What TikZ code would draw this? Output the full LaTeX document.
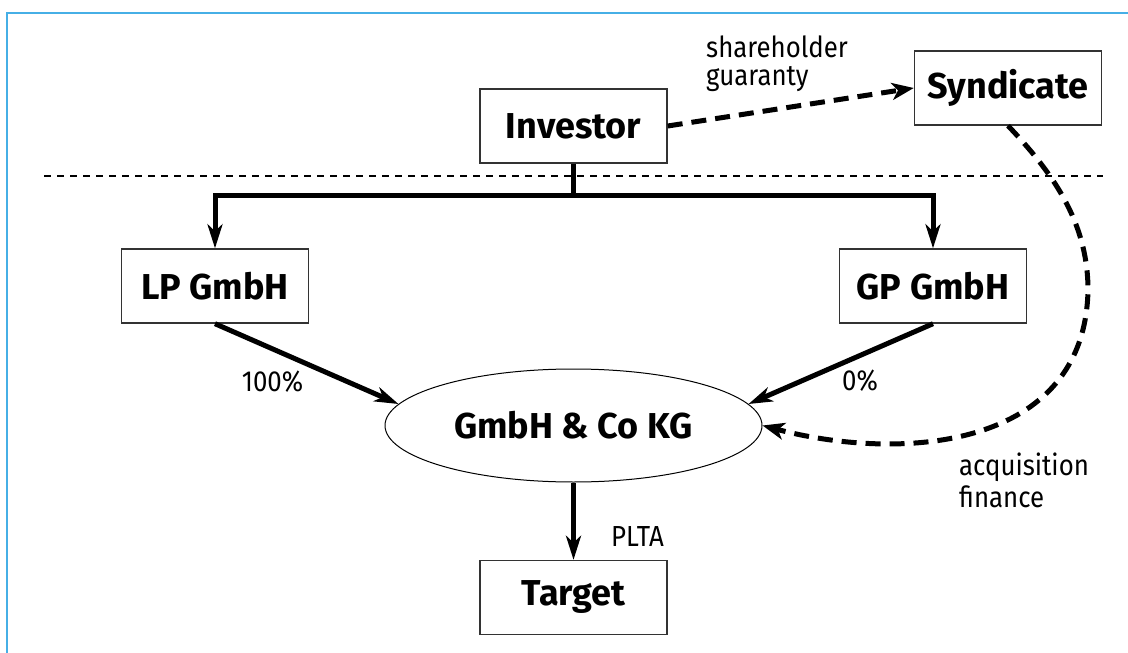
\documentclass[tikz,border=0pt]{standalone}
\usepackage{fontspec}
\setmainfont{Fira Sans}
\newfontfamily\notefont[FakeStretch=0.89]{Fira Sans}
\usetikzlibrary{arrows.meta,shapes.geometric}
\definecolor{framecol}{RGB}{70,175,230}
\begin{document}
\begin{tikzpicture}[x=1pt,y=-1pt,
  box/.style={draw=black!80, line width=1.4pt, minimum width=187pt, minimum height=74pt,
    inner sep=0pt, font=\fontsize{36}{40}\selectfont\bfseries},
  lbl/.style={inner sep=0pt, font=\notefont\fontsize{29}{28}\selectfont},
  flow/.style={line width=5pt, -{Stealth[length=24pt,width=15pt,inset=7pt]}},
  link/.style={line width=5pt},
  dflow/.style={line width=5pt, dash pattern=on 15pt off 9pt,
    -{Stealth[length=22pt,width=17pt,inset=6pt]}},
  divider/.style={line width=2pt, dash pattern=on 7pt off 6pt}]
\useasboundingbox (0,0) rectangle (1128,653);

% frame
\draw[framecol, line width=1.5pt] (7,653) -- (7,13) -- (1128,13);

% divider between investor level and holding structure
\coordinate (dl) at (44,176);
\coordinate (dr) at (1103,176);
\draw[divider] (dl) -- (dr);

% entities
\node[box] (inv) at (573.5,126) {Investor};
\node[box] (syn) at (1008,88) {Syndicate};
\node[box] (lp) at (215,286) {LP GmbH};
\node[box] (gp) at (933,286) {GP GmbH};
\node[ellipse, draw, line width=1pt, minimum width=377pt, minimum height=113pt, inner sep=0pt,
  font=\fontsize{36}{40}\selectfont\bfseries] (kg) at (573.5,425.5) {GmbH \& Co KG};
\node[box] (tg) at (573.5,597.5) {Target};

% ownership from the investor
\coordinate (bus) at (573.5,195);
\draw[link] (inv.south) -- (bus);
\draw[flow] (bus) -| (lp.north);
\draw[flow] (bus) -| (gp.north);

\draw[flow] (lp.south) -- (kg.173);
\draw[flow] (gp.south) -- (kg.7);
\draw[flow] (kg.south) -- (tg.north);

% financing
\draw[dflow] (inv.east) -- (syn.west);
\draw[dflow] (syn.south) .. controls (1050,170) and (1088,220) .. (1088,290)
  .. controls (1085,450) and (900,462) .. (kg.east);

% labels (base anchor sits on the last line)
\node[lbl, anchor=base west, align=left] (sg) at (706,85) {shareholder\\guaranty};
\node[lbl, anchor=base west, align=left, font=\notefont\fontsize{29}{32}\selectfont] (af) at (959,507) {acquisition\\finance};
\node[lbl, anchor=base] (p100) at (272.5,391) {100\%};
\node[lbl, anchor=base] (p0) at (860,390) {0\%};
\node[lbl, anchor=base] (plta) at (637.5,546) {PLTA};
\end{tikzpicture}
\end{document}
